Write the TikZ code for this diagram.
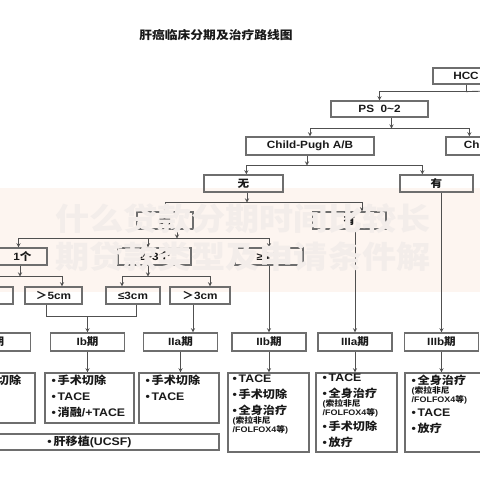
\documentclass[tikz,border=0pt]{standalone}
\usepackage{fontspec}
\setmainfont{Liberation Sans}[FakeStretch=1.12]
\newfontfamily\cjk{Noto Sans CJK SC}[FakeStretch=1.1]
\newcommand{\zh}[1]{{\cjk #1}}
\newcommand{\bul}{\textbullet\,}
\newcommand{\sm}{\fontsize{8}{9}\selectfont}
\usetikzlibrary{arrows}
\definecolor{boxgray}{RGB}{110,110,110}
\definecolor{linegray}{RGB}{80,80,80}
\definecolor{textblack}{RGB}{25,25,25}
\definecolor{bandpink}{RGB}{253,245,240}
\definecolor{wmgray}{RGB}{243,237,234}
\tikzstyle{box} = [rectangle, draw=boxgray, line width=1.2pt, minimum height=17pt, inner sep=0pt, text centered, text=textblack, font=\fontsize{10.5}{12}\selectfont\bfseries]
\tikzstyle{stage} = [box, minimum width=74pt, minimum height=18pt]
\tikzstyle{treat} = [rectangle, draw=boxgray, line width=1.2pt, inner sep=0pt]
\tikzstyle{items} = [anchor=north west, inner sep=0pt, align=left, text=textblack, font=\fontsize{11}{16}\selectfont\bfseries]
\tikzstyle{wmark} = [anchor=west, inner sep=0pt, text=wmgray, font=\cjk\bfseries\fontsize{31}{31}\selectfont]
\tikzstyle{arrow} = [line width=0.9pt, draw=linegray, ->, >=stealth]
\tikzstyle{link} = [line width=0.9pt, draw=linegray]

\begin{document}
\begin{tikzpicture}[x=1pt,y=-1pt]
               \useasboundingbox (0,0) rectangle (480,480);
               \clip (0,0) rectangle (480,480);
               \fill [bandpink] (0,188) rectangle (480,292);
               \node [text=textblack, font=\cjk\bfseries\fontsize{11.6}{13}\selectfont] at (216,35) (title) {肝癌临床分期及治疗路线图};
               % decision boxes
               \node [box, minimum width=66pt, minimum height=16pt] at (466,76) (hcc) {HCC};
               \node [box, minimum width=97pt, minimum height=16pt] at (379.5,109) (ps) {PS\ \ 0\textasciitilde 2};
               \node [box, minimum width=128pt, minimum height=18pt] at (310,146) (cpab) {Child-Pugh A/B};
               \node [box, minimum width=110pt, minimum height=18pt] at (501,146) (cpc) {Child-Pugh C};
               \node [box, minimum width=79pt] at (243.5,183.5) (noext) {\zh{无}};
               \node [box, minimum width=73pt] at (436.5,183.5) (ext) {\zh{有}};
               \node [box, minimum width=56pt] at (165,220.5) (novasc) {\zh{无}};
               \node [box, minimum width=73pt] at (349.5,220.5) (vasc) {\zh{有}};
               \node [box, minimum width=49pt] at (22.5,256.5) (one) {1\zh{个}};
               \node [box, minimum width=73pt] at (154.5,256.5) (two) {2\textasciitilde 3\zh{个}};
               \node [box, minimum width=68pt] at (269,256.5) (four) {≥4\zh{个}};
               \node [box, minimum width=57pt] at (-15.5,295.5) (le5) {≤5cm};
               \node [box, minimum width=57pt] at (53.5,295.5) (gt5) {\zh{＞}5cm};
               \node [box, minimum width=54pt] at (133,295.5) (le3) {≤3cm};
               \node [box, minimum width=60pt] at (200,295.5) (gt3) {\zh{＞}3cm};
               % stages
               \node [stage] at (-6.5,342) (s1a) {Ia\zh{期}};
               \node [stage] at (87.5,342) (s1b) {Ib\zh{期}};
               \node [stage] at (180.5,342) (s2a) {IIa\zh{期}};
               \node [stage] at (269,342) (s2b) {IIb\zh{期}};
               \node [stage] at (355,342) (s3a) {IIIa\zh{期}};
               \node [stage] at (441.5,342) (s3b) {IIIb\zh{期}};
               % treatments
               \node [treat, minimum width=75pt, minimum height=50pt] at (-2.5,398) (t1a) {};
               \node [treat, minimum width=89pt, minimum height=50pt] at (89.5,398) (t1b) {};
               \node [treat, minimum width=80pt, minimum height=50pt] at (179,398) (t2a) {};
               \node [treat, minimum width=81pt, minimum height=79pt] at (268.5,412.5) (t2b) {};
               \node [treat, minimum width=81pt, minimum height=79pt] at (356.5,412.5) (t3a) {};
               \node [treat, minimum width=81pt, minimum height=79pt] at (445.5,412.5) (t3b) {};
               \node [box, minimum width=259pt, minimum height=16pt, font=\fontsize{11}{13}\selectfont\bfseries] at (89.5,442) (ltx) {\bul\zh{肝移植}(UCSF)};
               \node [items, text width=65pt] at ([shift={(7,2)}]t1a.north west) (i1a) {\bul\zh{手术切除}};
               \node [items, text width=80pt] at ([shift={(7,2)}]t1b.north west) (i1b) {\bul\zh{手术切除}\\ \bul TACE\\ \bul\zh{消融}/+TACE};
               \node [items, text width=70pt] at ([shift={(7,2)}]t2a.north west) (i2a) {\bul\zh{手术切除}\\ \bul TACE};
               \node [items, text width=72pt] at ([shift={(5,2)}]t2b.north west) (i2b) {\bul TACE\\ \bul\zh{手术切除}\\ \bul\zh{全身治疗}\\[-6.5pt] {\sm(\zh{索拉非尼}}\\[-7pt] {\sm/FOLFOX4\zh{等})}};
               \node [items, text width=72pt] at ([shift={(7,1)}]t3a.north west) (i3a) {\bul TACE\\ \bul\zh{全身治疗}\\[-6.5pt] {\sm(\zh{索拉非尼}}\\[-7pt] {\sm/FOLFOX4\zh{等})}\\[-1pt] \bul\zh{手术切除}\\ \bul\zh{放疗}};
               \node [items, text width=72pt] at ([shift={(7,2)}]t3b.north west) (i3b) {\bul\zh{全身治疗}\\[-6.5pt] {\sm(\zh{索拉非尼}}\\[-7pt] {\sm/FOLFOX4\zh{等})}\\[-2pt] \bul TACE\\ \bul\zh{放疗}};
               % connectors
               \coordinate (offr) at (490,91);
               \draw [link] (hcc.south) -- ++(0,7) coordinate (jhcc);
               \draw [arrow] (jhcc) -| (ps.north);
               \draw [link] (jhcc) -- (offr);
               \draw [arrow] ([xshift=12]ps.south) -- ++(0,11) coordinate (jps);
               \draw [arrow] (jps) -| (cpab.north);
               \draw [arrow] (jps) -| ([xshift=24]cpc.north west);
               \draw [arrow] ([xshift=-3]cpab.south) -- ++(0,10) coordinate (jcp);
               \draw [arrow] (jcp) -| ([xshift=43]noext.north west);
               \draw [arrow] (jcp) -| ([xshift=23]ext.north west);
               \draw [arrow] ([xshift=3.5]noext.south) -- ++(0,10) coordinate (jno);
               \draw [arrow] (jno) -| (novasc.north);
               \draw [arrow] (jno) -| ([xshift=12.5]vasc.north);
               \draw [arrow] ([xshift=12]novasc.south) -- ++(0,9) coordinate (jnv);
               \draw [arrow] (jnv) -| ([xshift=-4]one.north);
               \draw [arrow] (jnv) -| ([xshift=-6.5]two.north);
               \draw [arrow] (jnv) -| (four.north);
               \draw [arrow] ([xshift=-2.5]one.south) -- ++(0,11) coordinate (jone);
               \draw [arrow] (jone) -| (le5.north);
               \draw [arrow] (jone) -| ([xshift=8.5]gt5.north);
               \draw [arrow] ([xshift=-6.5]two.south) -- ++(0,11) coordinate (jtwo);
               \draw [arrow] (jtwo) -| ([xshift=-11]le3.north);
               \draw [arrow] (jtwo) -| ([xshift=10]gt3.north);
               \draw [arrow] (four.south) -- (s2b.north);
               \draw [arrow] (s3a.north |- vasc.south) -- (s3a.north);
               \draw [arrow] (s3b.north |- ext.south) -- (s3b.north);
               \draw [arrow] (s1a.north |- le5.south) -- (s1a.north);
               \draw [link] ([xshift=-7.5]gt5.south) -- ++(0,12) coordinate (jmerge) -| ([xshift=3]le3.south);
               \draw [arrow] (s1b.north |- jmerge) -- (s1b.north);
               \draw [arrow] ([xshift=-7]gt3.south) -- ([xshift=-7]gt3.south |- s2a.north);
               \draw [arrow] (s1a.south) -- (s1a.south |- t1a.north);
               \draw [arrow] (s1b.south) -- (s1b.south |- t1b.north);
               \draw [arrow] (s2a.south) -- (s2a.south |- t2a.north);
               \draw [arrow] (s2b.south) -- (s2b.south |- t2b.north);
               \draw [arrow] (s3a.south) -- (s3a.south |- t3a.north);
               \draw [arrow] (s3b.south) -- (s3b.south |- t3b.north);
               % watermark
               \node [wmark] at (55,219) (wm1) {什么贷款分期时间比较长};
               \node [wmark] at (55,257) (wm2) {期贷款类型及申请条件解};
               \end{tikzpicture}
\end{document}
